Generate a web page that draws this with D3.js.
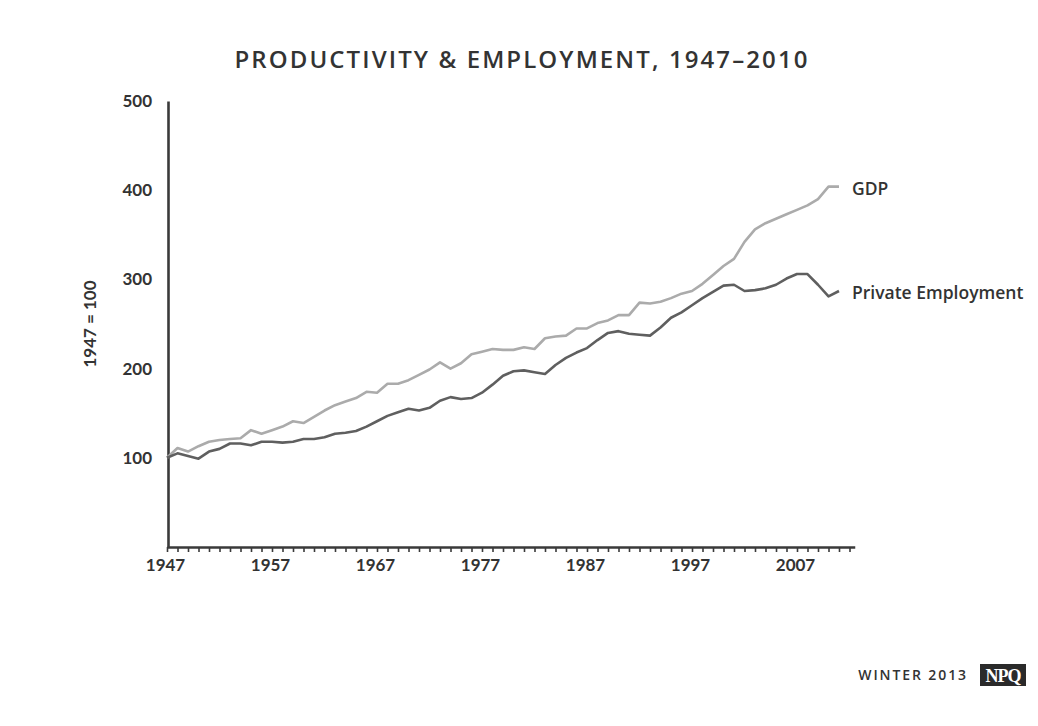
<!DOCTYPE html>
<html>
<head>
<meta charset="utf-8">
<script src="https://cdn.jsdelivr.net/npm/d3@7"></script>
<style>
  html, body { margin: 0; padding: 0; background: #fff; }
  svg { display: block; }
</style>
</head>
<body>
<svg id="chart" width="1038" height="726"></svg>
<script>
// ---- Data ----
const years = d3.range(1947, 2012); // 1947 .. 2011
const gdp = [
  100, 111, 107, 113, 118, 120, 121, 122, 131, 127,
  131, 135, 141, 139, 146, 153, 159, 163, 167, 174,
  173, 183, 183, 187, 193, 199, 207, 200, 206, 216,
  219, 222, 221, 221, 224, 222, 234, 236, 237, 245,
  245, 251, 254, 260, 260, 274, 273, 275, 279, 284,
  287, 295, 305, 315, 323, 342, 356, 363, 368, 373,
  378, 383, 390, 404, 404
];
const employment = [
  100, 105, 102, 99, 107, 110, 116, 116, 114, 118,
  118, 117, 118, 121, 121, 123, 127, 128, 130, 135,
  141, 147, 151, 155, 153, 156, 164, 168, 166, 167,
  173, 182, 192, 197, 198, 196, 194, 204, 212, 218,
  223, 232, 240, 242, 239, 238, 237, 246, 257, 263,
  271, 279, 286, 293, 294, 287, 288, 290, 294, 301,
  306, 306, 294, 281, 287
];
const seriesNames = ["GDP", "Private Employment"];
const xTickLabels = [1947, 1957, 1967, 1977, 1987, 1997, 2007];
const yTickValues = [100, 200, 300, 400, 500];
const titleText = "PRODUCTIVITY & EMPLOYMENT, 1947\u20132010";
const yAxisLabel = "1947 = 100";
const footerText = "WINTER 2013";
const logoText = "NPQ";

// ---- Layout ----
const svg = d3.select("#chart");
const x = d3.scaleLinear().domain([1947, 2012.5]).range([167, 854.75]);
const y = d3.scaleLinear().domain([0, 500]).range([547, 101]);

const axisColor = "#3a3a3a";
const textColor = "#333";
const labelFont = "Lato, 'Open Sans', sans-serif";

// Title
svg.append("text")
  .attr("x", 522).attr("y", 68)
  .attr("text-anchor", "middle")
  .attr("font-family", "'Open Sans', 'Lato', sans-serif")
  .attr("font-weight", 600)
  .attr("font-size", 24)
  .attr("letter-spacing", 2.1)
  .attr("fill", textColor)
  .text(titleText);

// X axis (yearly ticks, labels every 10 years)
const xAxis = d3.axisBottom(x)
  .tickValues(d3.range(1947, 2013))
  .tickSize(5)
  .tickSizeOuter(0)
  .tickFormat(d => xTickLabels.includes(d) ? String(d) : "");
const gx = svg.append("g")
  .attr("transform", `translate(0,${y(0)})`)
  .call(xAxis);
gx.select(".domain").attr("stroke", axisColor).attr("stroke-width", 2.6);
gx.selectAll(".tick line").attr("stroke", axisColor).attr("stroke-width", 1.6);
gx.selectAll(".tick text")
  .attr("font-family", labelFont)
  .attr("font-weight", "bold")
  .attr("font-size", 17)
  .attr("fill", textColor)
  .attr("dy", "0.95em")
  .attr("dx", -2);

// Y axis
const yAxis = d3.axisLeft(y)
  .tickValues(yTickValues)
  .tickSize(0)
  .tickSizeOuter(0)
  .tickPadding(16)
  .tickFormat(d3.format("d"));
const gy = svg.append("g")
  .attr("transform", `translate(${x(1947) + 1},0)`)
  .call(yAxis);
gy.select(".domain").attr("stroke", axisColor).attr("stroke-width", 2.6);
gy.selectAll(".tick text")
  .attr("font-family", labelFont)
  .attr("font-weight", "bold")
  .attr("font-size", 17)
  .attr("fill", textColor);

// Y axis title
svg.append("text")
  .attr("transform", `translate(96,${y(250)}) rotate(-90)`)
  .attr("text-anchor", "middle")
  .attr("font-family", labelFont)
  .attr("font-weight", "bold")
  .attr("font-size", 17)
  .attr("fill", textColor)
  .text(yAxisLabel);

// Lines
const line = d3.line()
  .x((d, i) => x(years[i]))
  .y(d => y(d));

const series = [
  { name: seriesNames[0], values: gdp, color: "#ababab" },
  { name: seriesNames[1], values: employment, color: "#5f5f5f" }
];

svg.selectAll("path.series")
  .data(series)
  .join("path")
  .attr("class", "series")
  .attr("fill", "none")
  .attr("stroke", d => d.color)
  .attr("stroke-width", 2.6)
  .attr("stroke-linejoin", "round")
  .attr("d", d => line(d.values));

// End labels
svg.selectAll("text.endlabel")
  .data(series)
  .join("text")
  .attr("class", "endlabel")
  .attr("x", d => x(years[years.length - 1]) + 13)
  .attr("y", d => y(d.values[d.values.length - 1]) + 8)
  .attr("font-family", "'Open Sans', 'Lato', sans-serif")
  .attr("font-weight", 600)
  .attr("font-size", 17.5)
  .attr("fill", textColor)
  .text(d => d.name);

// Footer
svg.append("text")
  .attr("x", 968).attr("y", 680)
  .attr("text-anchor", "end")
  .attr("font-family", "'Open Sans', 'Lato', sans-serif")
  .attr("font-weight", 600)
  .attr("font-size", 14)
  .attr("letter-spacing", 1.9)
  .attr("fill", textColor)
  .text(footerText);

const logo = svg.append("g").attr("transform", "translate(980,664)");
logo.append("rect")
  .attr("width", 46).attr("height", 22)
  .attr("fill", "#2a2a2a");
logo.append("text")
  .attr("x", 23).attr("y", 17.5)
  .attr("text-anchor", "middle")
  .attr("font-family", "'Liberation Serif', 'DejaVu Serif', serif")
  .attr("font-weight", "bold")
  .attr("font-size", 18)
  .attr("fill", "#fff")
  .attr("letter-spacing", -1)
  .text(logoText);
</script>
</body>
</html>
